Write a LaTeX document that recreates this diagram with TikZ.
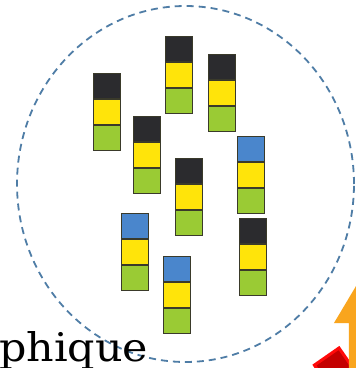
\documentclass[tikz,border=0pt]{standalone}
\usepackage{fontspec}
\newfontfamily\labelfont{DejaVu Serif}
\definecolor{cellblack}{HTML}{2B2B2E}
\definecolor{cellyellow}{HTML}{FFE40A}
\definecolor{cellgreen}{HTML}{9ACB34}
\definecolor{cellblue}{HTML}{4A86CC}
\definecolor{celledge}{HTML}{3A3A2A}
\definecolor{ringblue}{HTML}{4F7DA6}
\definecolor{arroworange}{HTML}{F9A51E}
\definecolor{redfill}{HTML}{C40000}
\definecolor{rededge}{HTML}{FF0A0A}
\tikzset{
  cell/.style={draw=celledge, line width=1.2pt, minimum width=27pt, minimum height=24.7pt, inner sep=0pt, anchor=north west},
  ring/.style={draw=ringblue, line width=1.8pt, dash pattern=on 7pt off 5pt},
}
\newcommand\mystack[4]{%
  \node[cell, fill=#4] (#1t) at (#2,-#3) {};
  \node[cell, fill=cellyellow] (#1m) at (#1t.south west) {};
  \node[cell, fill=cellgreen] (#1b) at (#1m.south west) {};
}
\begin{document}
\begin{tikzpicture}[x=1pt,y=1pt]
\useasboundingbox (0,0) rectangle (356,-368);
\clip (0,0) rectangle (356,-368);
\fill[white] (0,0) rectangle (356,-368);
% dashed ring
\draw[ring] (185.5,-184) ellipse [x radius=168.5, y radius=178];
% stacks
\mystack{A}{93}{73}{cellblack}
\mystack{B}{165}{36}{cellblack}
\mystack{C}{208}{54}{cellblack}
\mystack{D}{133}{116}{cellblack}
\mystack{E}{175}{158}{cellblack}
\mystack{F}{237}{136}{cellblue}
\mystack{G}{121}{213}{cellblue}
\mystack{H}{163}{256}{cellblue}
\mystack{I}{239}{218}{cellblack}
% text
\node[anchor=base west, inner sep=0pt] (txt) at (-1,-361.5)
  {\resizebox{149pt}{30pt}{\labelfont phique}};
% red square
\filldraw[fill=redfill, draw=rededge, line width=3pt, line join=miter]
  (339,-348) -- (314.4,-365.1) -- (331.5,-389.7) -- (356.1,-372.6) -- cycle;
% orange arrow
\fill[arroworange] (362,-276) -- (390,-323) -- (375,-323) -- (375,-380)
  -- (349,-380) -- (349,-323) -- (334,-323) -- cycle;
\end{tikzpicture}
\end{document}
